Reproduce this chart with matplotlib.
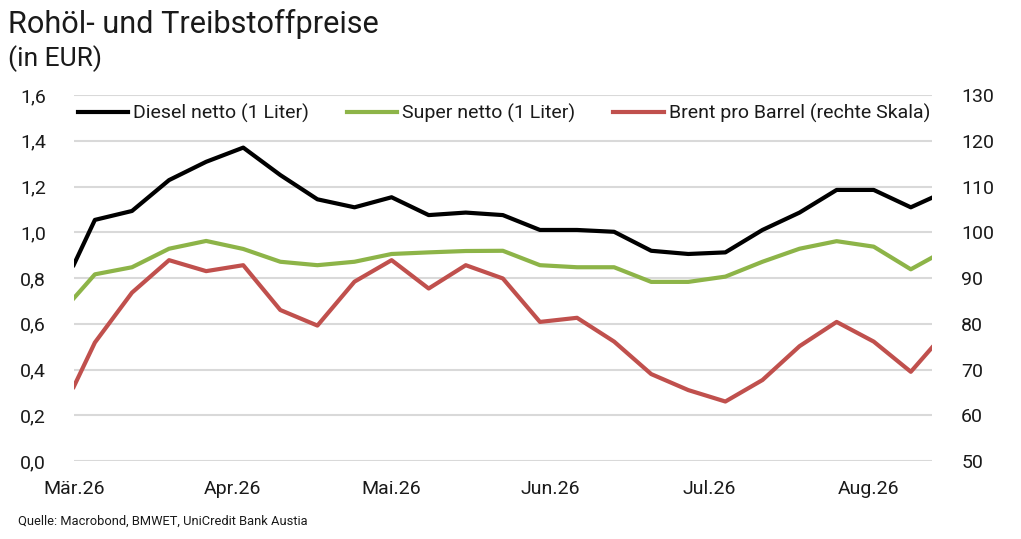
import matplotlib
matplotlib.use("Agg")
import matplotlib.pyplot as plt
import numpy as np
import pandas as pd

# ---- data ----
dates = ["2026-03-01", "2026-03-05", "2026-03-12", "2026-03-19", "2026-03-26",
         "2026-04-02", "2026-04-09", "2026-04-16", "2026-04-23", "2026-04-30",
         "2026-05-07", "2026-05-14", "2026-05-21", "2026-05-28", "2026-06-04",
         "2026-06-11", "2026-06-18", "2026-06-25", "2026-07-02", "2026-07-09",
         "2026-07-16", "2026-07-23", "2026-07-30", "2026-08-06", "2026-08-10"]
diesel = [0.857, 1.054, 1.093, 1.228, 1.308, 1.370, 1.250, 1.144, 1.109, 1.153,
          1.075, 1.086, 1.075, 1.010, 1.010, 1.002, 0.919, 0.905, 0.912, 1.010,
          1.086, 1.185, 1.185, 1.109, 1.151]
super_ = [0.711, 0.816, 0.847, 0.928, 0.962, 0.927, 0.871, 0.856, 0.871, 0.905,
          0.912, 0.918, 0.919, 0.856, 0.847, 0.847, 0.783, 0.783, 0.806, 0.871,
          0.928, 0.961, 0.937, 0.838, 0.889]
brent = [66.2, 75.9, 86.8, 93.9, 91.5, 92.8, 83.0, 79.6, 89.2, 93.9,
         87.7, 92.8, 89.9, 80.4, 81.3, 76.1, 69.0, 65.5, 63.0, 67.7,
         75.1, 80.4, 76.1, 69.5, 74.8]
month_labels = ["Mär.26", "Apr.26", "Mai.26", "Jun.26", "Jul.26", "Aug.26"]
left_ticks = [0.0, 0.2, 0.4, 0.6, 0.8, 1.0, 1.2, 1.4, 1.6]
right_ticks = [50, 60, 70, 80, 90, 100, 110, 120, 130]
labels = ["Diesel netto (1 Liter)", "Super netto (1 Liter)", "Brent pro Barrel (rechte Skala)"]

FONT = ["Roboto", "DejaVu Sans"]
plt.rcParams["font.family"] = FONT

d = pd.to_datetime(dates)
x = (d - d[0]).days.values.astype(float)

W, H = 1021, 539
fig = plt.figure(figsize=(W / 100, H / 100), dpi=100)
ax = fig.add_axes([73.7 / W, 1 - 461 / H, (932 - 73.7) / W, (461 - 95) / H])
ax2 = ax.twinx()

black = "#000000"
green = "#8DB448"
red = "#C0504D"
txt = "#1a1a1a"

ax.set_axisbelow(True)
for v in left_ticks:
    ax.axhline(v, color="#D9D9D9", lw=1.5, zorder=0)

l1, = ax.plot(x, diesel, color=black, lw=3, zorder=3)
l2, = ax.plot(x, super_, color=green, lw=3, zorder=3)
l3, = ax2.plot(x, brent, color=red, lw=3, zorder=3)

ax.set_xlim(x[0], x[-1])
ax.set_ylim(0, 1.6)
ax2.set_ylim(50, 130)
ax.set_yticks(left_ticks)
ax.set_yticklabels([f"{v:.1f}".replace(".", ",") for v in left_ticks])
ax2.set_yticks(right_ticks)
ax2.set_yticklabels([str(v) for v in right_ticks])

xt = [x[0] + 30 * k for k in range(len(month_labels))]
ax.set_xticks(xt)
ax.set_xticklabels(month_labels)

for a in (ax, ax2):
    for s in a.spines.values():
        s.set_visible(False)
    a.tick_params(length=0, labelsize=14, colors=txt)
ax.tick_params(axis="y", pad=20)
ax2.tick_params(axis="y", pad=21)
ax.tick_params(axis="x", pad=14)

leg = ax.legend([l1, l2, l3], labels, loc="center left", ncol=3, frameon=False,
                bbox_to_anchor=(4 / (932 - 73.7), 1 - (113 - 95) / (461 - 95)), fontsize=14.0,
                handlelength=2.6, handletextpad=0.25, columnspacing=1.95, borderaxespad=0,
                borderpad=0)
for t in leg.get_texts():
    t.set_color(txt)

fig.text(8 / W, 1 - 9 / H, "Rohöl- und Treibstoffpreise", fontsize=22.1, va="top", ha="left", color=txt)
fig.text(8 / W, 1 - 45 / H, "(in EUR)", fontsize=19, va="top", ha="left", color=txt)
fig.text(18 / W, 1 - 521 / H, "Quelle: Macrobond, BMWET, UniCredit Bank Austia", fontsize=9.3,
         va="center", ha="left", color=txt)

fig.savefig("out.png", dpi=100)
